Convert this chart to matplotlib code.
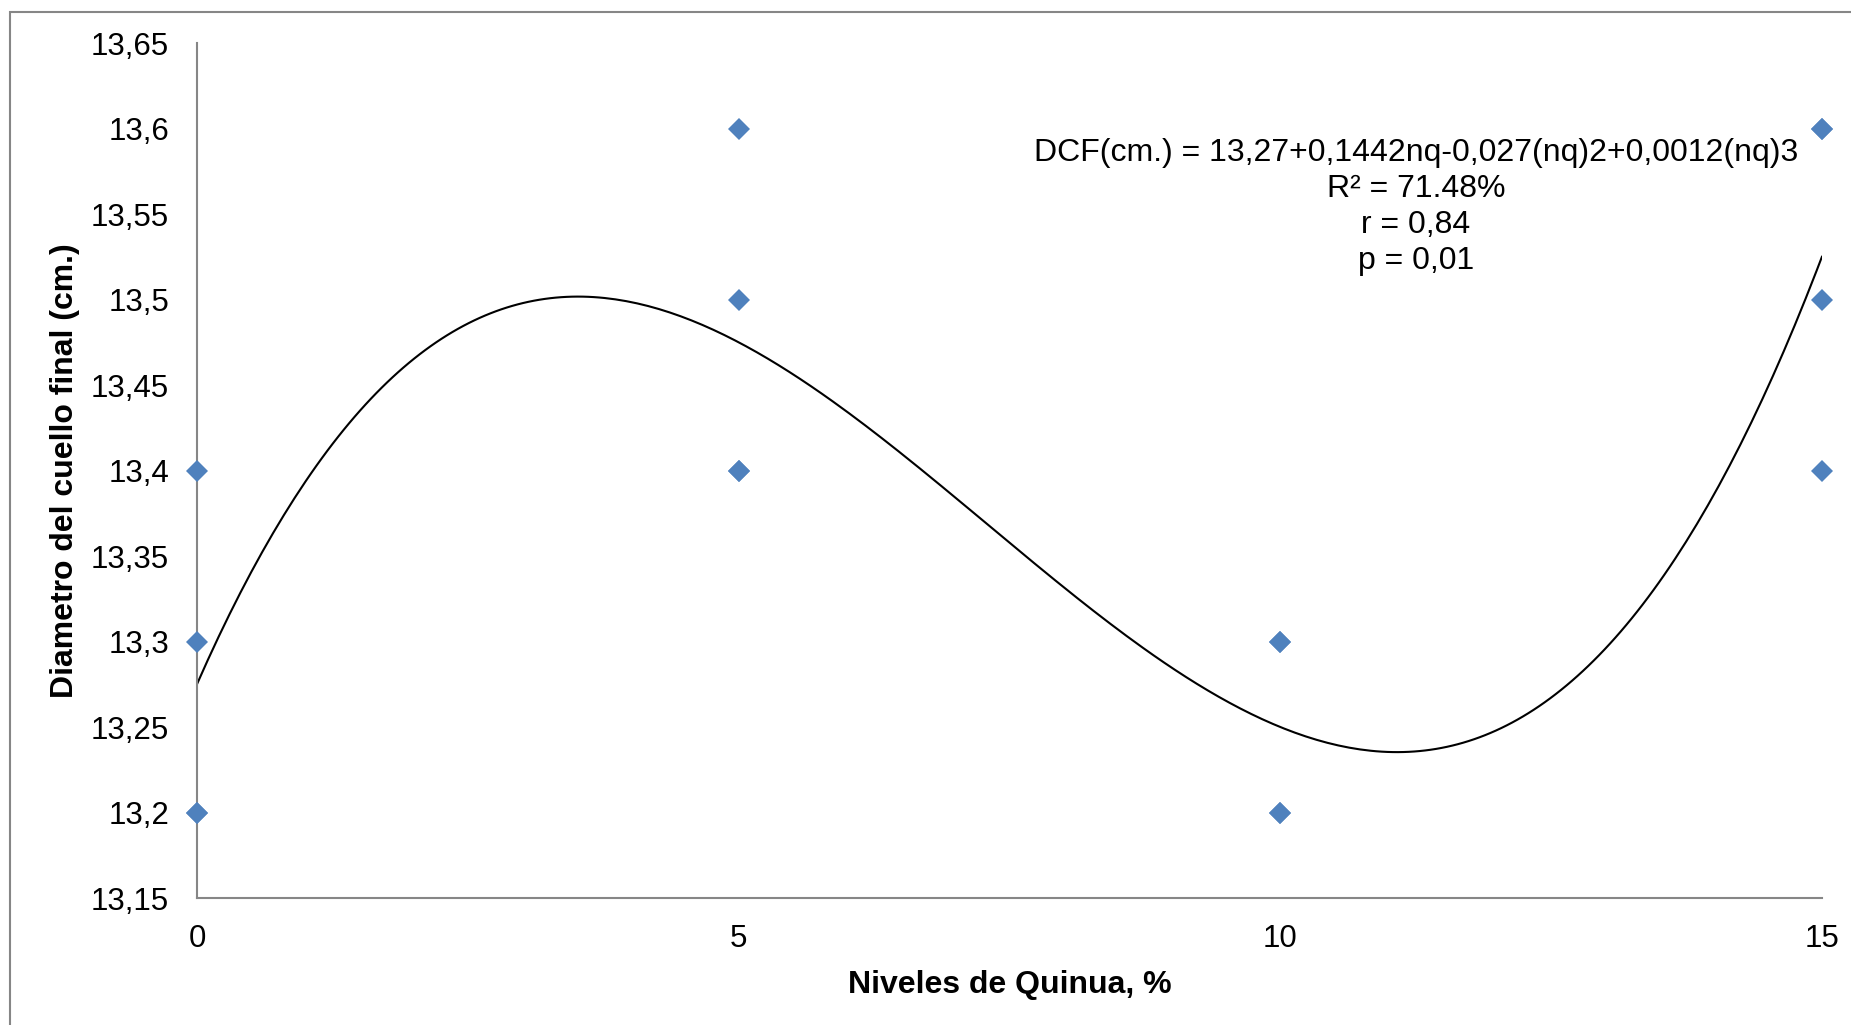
import numpy as np
import matplotlib
matplotlib.use("Agg")
import matplotlib.pyplot as plt
from matplotlib.patches import Rectangle
from matplotlib.ticker import FuncFormatter

plt.rcParams['font.family'] = ['Liberation Sans', 'DejaVu Sans']

# niveles de quinua (%) y diametro del cuello final (cm), 4 repeticiones
nq = [0, 0, 0, 0, 5, 5, 5, 5, 10, 10, 10, 10, 15, 15, 15, 15]
dcf = [13.2, 13.3, 13.4, 13.2,
       13.6, 13.5, 13.4, 13.4,
       13.3, 13.2, 13.2, 13.3,
       13.6, 13.5, 13.4, 13.6]

eq_lines = ["DCF(cm.) = 13,27+0,1442nq-0,027(nq)2+0,0012(nq)3",
            "R² = 71.48%",
            "r = 0,84",
            "p = 0,01"]

fig = plt.figure(figsize=(18.51, 10.25), dpi=100)
ax = fig.add_axes([0.1064, 0.1239, 0.9843 - 0.1064, 0.958 - 0.1239])

# polinomio de grado 3 (linea de tendencia)
coef = np.polyfit(nq, dcf, 3)
xs = np.linspace(0, 15, 300)
ax.plot(xs, np.polyval(coef, xs), color='black', lw=1.5, zorder=2)

ax.plot(nq, dcf, ls='none', marker='D', ms=11.5, color='#4F81BD',
        markeredgewidth=0, zorder=3, clip_on=False)

ax.set_xlim(0, 15)
ax.set_ylim(13.15, 13.65)
ax.set_xticks([0, 5, 10, 15])
ax.set_yticks(np.arange(13.15, 13.651, 0.05))
comma = FuncFormatter(lambda v, p: ('%g' % round(v, 2)).replace('.', ','))
ax.yaxis.set_major_formatter(comma)
ax.xaxis.set_major_formatter(comma)
ax.tick_params(length=0, labelsize=22.5)
ax.tick_params(axis='y', pad=20)
ax.tick_params(axis='x', pad=19)

for s in ['top', 'right']:
    ax.spines[s].set_visible(False)
for s in ['left', 'bottom']:
    ax.spines[s].set_color('#868686')
    ax.spines[s].set_linewidth(1.5)

ax.set_xlabel('Niveles de Quinua, %', fontsize=23, fontweight='bold', labelpad=11)
ax.set_ylabel('Diametro del cuello final (cm.)', fontsize=23, fontweight='bold', labelpad=8)

ax.text(0.765, 0.798, "\n".join(eq_lines), transform=fig.transFigure,
        ha='center', va='center', fontsize=23, linespacing=1.25)

# marco del grafico
fig.patches.append(Rectangle((10 / 1851, -0.1), 1.2, 1.1 - 11.5 / 1025,
                             transform=fig.transFigure, fill=False,
                             edgecolor='#868686', lw=1.5))

fig.savefig('out.png', dpi=100)
